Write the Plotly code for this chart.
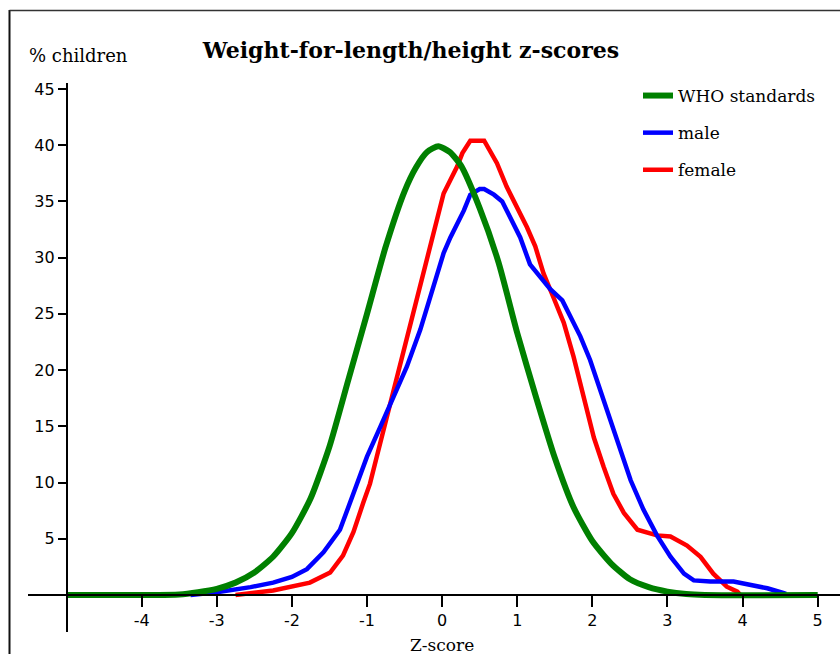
import plotly.graph_objects as go

# ---------------- data ----------------
z_who = [-5.0, -4.0, -3.5, -3.25, -3.0, -2.75, -2.5, -2.25, -2.0, -1.75, -1.5, -1.25, -1.0,
         -0.75, -0.5, -0.35, -0.2, -0.05, 0.1, 0.25, 0.5, 0.75, 1.0, 1.25, 1.5, 1.75, 2.0,
         2.25, 2.5, 2.75, 3.0, 3.25, 3.5, 5.0]
who = [0, 0, 0.05, 0.25, 0.55, 1.1, 2.0, 3.4, 5.5, 8.6, 13.2, 19.1, 25.0,
       31.0, 35.9, 38.0, 39.4, 39.9, 39.4, 38.2, 34.4, 29.6, 23.3, 17.6, 12.2, 7.8, 4.8,
       2.8, 1.4, 0.7, 0.3, 0.08, 0, 0]

z_male = [-3.35, -3.0, -2.55, -2.25, -2.0, -1.8, -1.58, -1.36, -1.16, -1.0, -0.82, -0.65,
          -0.47, -0.29, -0.16, -0.07, 0.02, 0.11, 0.2, 0.29, 0.375, 0.5, 0.56, 0.69, 0.8,
          0.91, 1.04, 1.17, 1.35, 1.44, 1.6, 1.71, 1.84, 1.97, 2.11, 2.24, 2.37, 2.51, 2.68,
          2.86, 3.04, 3.22, 3.35, 3.57, 3.88, 4.15, 4.33, 4.53, 4.58]
male = [0, 0.25, 0.7, 1.1, 1.6, 2.3, 3.8, 5.8, 9.4, 12.3, 15.0, 17.6,
        20.3, 23.6, 26.5, 28.6, 30.4, 31.8, 33.0, 34.2, 35.6, 36.1, 36.1, 35.6, 35.0,
        33.6, 31.8, 29.4, 28.0, 27.2, 26.2, 24.7, 23.0, 20.9, 18.2, 15.6, 12.9, 10.2, 7.6,
        5.3, 3.4, 1.9, 1.3, 1.2, 1.2, 0.9, 0.6, 0.2, 0.1]

z_female = [-2.75, -2.25, -1.76, -1.49, -1.32, -1.18, -1.05, -0.96, -0.87, -0.78, -0.67,
            -0.56, -0.42, -0.31, -0.18, -0.05, 0.02, 0.11, 0.2, 0.27, 0.375, 0.56, 0.73,
            0.86, 1.0, 1.13, 1.24, 1.35, 1.48, 1.62, 1.75, 1.88, 2.02, 2.15, 2.28, 2.42,
            2.6, 2.86, 3.04, 3.26, 3.44, 3.61, 3.79, 3.93, 3.97]
female = [0, 0.4, 1.1, 2.0, 3.5, 5.6, 8.2, 9.9, 12.3, 14.7, 17.6,
          20.6, 24.2, 27.1, 30.4, 34.2, 35.7, 36.9, 38.1, 39.3, 40.4, 40.4, 38.4,
          36.3, 34.5, 32.7, 31.0, 28.6, 26.5, 24.2, 21.2, 17.6, 14.0, 11.4, 9.0, 7.3,
          5.8, 5.3, 5.2, 4.4, 3.4, 1.9, 0.74, 0.3, 0]

x_ticks = [-4, -3, -2, -1, 0, 1, 2, 3, 4, 5]
x_tick_labels = ["-4", "-3", "-2", "-1", "0", "1", "2", "3", "4", "5"]
y_ticks = [5, 10, 15, 20, 25, 30, 35, 40, 45]
y_tick_labels = ["5", "10", "15", "20", "25", "30", "35", "40", "45"]

# ---------------- layout constants ----------------
X_RANGE = [-5.513, 5.297]
Y_RANGE = [-3.29, 45.53]
W, H = 840, 654
ML, MR, MT, MB = 28, 0, 83, 22
PW, PH = W - ML - MR, H - MT - MB

def px_x(p):
    return (p - ML) / PW

def px_y(p):
    return 1 - (p - MT) / PH

xpos = (0 - Y_RANGE[0]) / (Y_RANGE[1] - Y_RANGE[0])
ypos = (-5 - X_RANGE[0]) / (X_RANGE[1] - X_RANGE[0])

SERIF = "DejaVu Serif"
SANS = "DejaVu Sans"

fig = go.Figure()
fig.add_trace(go.Scatter(x=z_female, y=female, name="female", mode="lines",
                         line=dict(color="#ff0000", width=4.5), legendrank=3, legendgroup="f"))
fig.add_trace(go.Scatter(x=z_male, y=male, name="male", mode="lines",
                         line=dict(color="#0000ff", width=4.5), legendrank=2, legendgroup="m"))
fig.add_trace(go.Scatter(x=z_who, y=who, name="WHO standards", mode="lines",
                         line=dict(color="#008000", width=6, shape="spline", smoothing=0.6),
                         legendrank=1, legendgroup="w"))

axis_common = dict(showgrid=False, zeroline=False, fixedrange=True)

fig.update_layout(
    width=W, height=H,
    margin=dict(l=ML, r=MR, t=MT, b=MB, pad=0),
    paper_bgcolor="white", plot_bgcolor="white",
    title=dict(text="<b>Weight-for-length/height z-scores</b>",
               font=dict(family=SERIF, size=22, color="#000"),
               x=411 / W, xanchor="center", y=1 - 50 / H, yanchor="middle"),
    xaxis=dict(range=X_RANGE, anchor="free", position=xpos, showline=True,
               linecolor="#000", linewidth=1.5, ticks="outside", ticklen=11,
               tickwidth=1.5, tickcolor="#000", tickvals=x_ticks, ticktext=x_tick_labels,
               tickfont=dict(family=SANS, size=16, color="#000"), **axis_common),
    xaxis2=dict(range=X_RANGE, overlaying="x", anchor="free", position=xpos,
                showline=False, ticks="inside", ticklen=6, tickwidth=1.5,
                tickcolor="#000", tickvals=x_ticks, showticklabels=False, **axis_common),
    yaxis=dict(range=Y_RANGE, anchor="free", position=ypos, showline=True,
               linecolor="#000", linewidth=1.5, ticks="outside", ticklen=8,
               tickwidth=1.5, tickcolor="#000", tickvals=y_ticks, ticktext=y_tick_labels,
               tickfont=dict(family=SANS, size=16, color="#000"), **axis_common),
    yaxis2=dict(range=Y_RANGE, overlaying="y", anchor="free", position=ypos,
                showline=False, ticks="inside", ticklen=4, tickwidth=1.5,
                tickcolor="#000", tickvals=y_ticks, showticklabels=False, **axis_common),
    legend=dict(x=px_x(638), xanchor="left", y=px_y(78), yanchor="top",
                font=dict(family=SERIF, size=17, color="#000"),
                bgcolor="rgba(0,0,0,0)", traceorder="grouped", tracegroupgap=12),
    showlegend=True,
)

fig.add_annotation(text="% children", xref="paper", yref="paper",
                   x=px_x(27), y=px_y(55), xanchor="left", yanchor="middle",
                   showarrow=False, font=dict(family=SERIF, size=18, color="#000"))
fig.add_annotation(text="Z-score", xref="x", yref="paper",
                   x=0, y=px_y(645), xanchor="center", yanchor="middle",
                   showarrow=False, font=dict(family=SERIF, size=17, color="#000"))

# frame lines (left and top edges of original picture)
fig.add_shape(type="line", xref="paper", yref="paper",
              x0=px_x(9.5), x1=px_x(9.5), y0=px_y(10), y1=px_y(660),
              line=dict(color="#111", width=2))
fig.add_shape(type="line", xref="paper", yref="paper",
              x0=px_x(9.5), x1=px_x(845), y0=px_y(10.5), y1=px_y(10.5),
              line=dict(color="#333", width=1.5))

fig.write_html("out.html", config={"displayModeBar": False},
               post_script="document.body.style.margin='0';")
